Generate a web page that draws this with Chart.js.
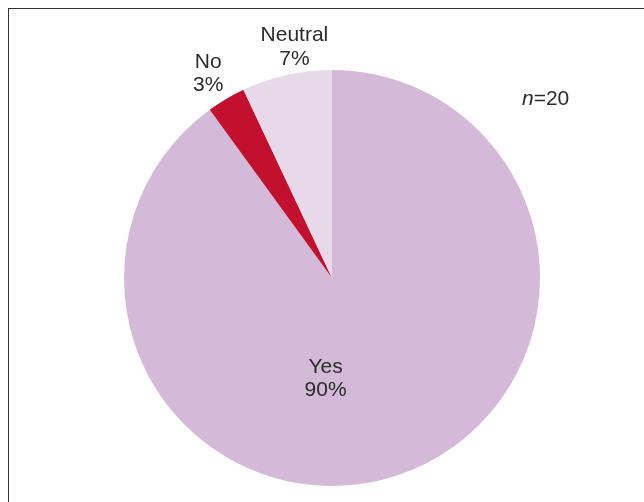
<!DOCTYPE html>
<html>
<head>
<meta charset="utf-8">
<script src="https://cdn.jsdelivr.net/npm/chart.js@4/dist/chart.umd.min.js"></script>
<style>
  html, body { margin: 0; padding: 0; background: #fff; overflow: hidden; width: 644px; height: 502px; }
  #frame { position: absolute; left: 8px; top: 8px; width: 700px; height: 600px; border: 1.5px solid #333; box-sizing: border-box; }
  #wrap { position: absolute; left: 0; top: 0; width: 644px; height: 502px; }
</style>
</head>
<body>
<div id="frame"></div>
<div id="wrap"><canvas id="c" width="644" height="502"></canvas></div>
<script>
const categories = ["Yes", "No", "Neutral"];
const values = [90, 3, 7];
const valueLabels = ["90%", "3%", "7%"];
const colors = ["#d4b9d8", "#c3102f", "#e7d9e9"];
const note = { italic: "n", rest: "=20" };

// label placement style per slice: angle fraction within slice, radius factor (outside), or inside offset
const labelStyle = [
  { inside: true, dx: -0.031, dy: 0.478 },
  { inside: false, frac: 0.46, r: 1.155 },
  { inside: false, frac: 0.635, r: 1.13 }
];

const FONT = '21px "Liberation Sans", Arial, sans-serif';

const labelPlugin = {
  id: 'sliceLabels',
  afterDatasetsDraw(chart) {
    const ctx = chart.ctx;
    const meta = chart.getDatasetMeta(0);
    ctx.save();
    ctx.fillStyle = '#2b2b2b';
    ctx.font = FONT;
    ctx.textAlign = 'center';
    ctx.textBaseline = 'alphabetic';
    meta.data.forEach((arc, i) => {
      const s = labelStyle[i];
      const R = arc.outerRadius;
      let x, y;
      if (s.inside) {
        x = arc.x + s.dx * R;
        y = arc.y + s.dy * R;
      } else {
        const a = arc.startAngle + s.frac * (arc.endAngle - arc.startAngle);
        x = arc.x + Math.cos(a) * R * s.r;
        y = arc.y + Math.sin(a) * R * s.r;
      }
      ctx.fillText(categories[i], x, y - 4.5);
      ctx.fillText(valueLabels[i], x, y + 19);
    });
    // n=20 note
    const ca = chart.chartArea;
    const nx = ca.right - 18;
    const ny = ca.top + 35;
    ctx.textAlign = 'left';
    ctx.font = 'italic ' + FONT;
    const w1 = ctx.measureText(note.italic).width;
    ctx.fillText(note.italic, nx, ny);
    ctx.font = FONT;
    ctx.fillText(note.rest, nx + w1, ny);
    ctx.restore();
  }
};

new Chart(document.getElementById('c'), {
  type: 'pie',
  data: {
    labels: categories,
    datasets: [{
      data: values,
      backgroundColor: colors,
      borderWidth: 0
    }]
  },
  options: {
    responsive: false,
    animation: false,
    rotation: 0,
    layout: { padding: { left: 124, right: 104, top: 70, bottom: 16 } },
    plugins: { legend: { display: false }, tooltip: { enabled: false } }
  },
  plugins: [labelPlugin]
});
</script>
</body>
</html>
